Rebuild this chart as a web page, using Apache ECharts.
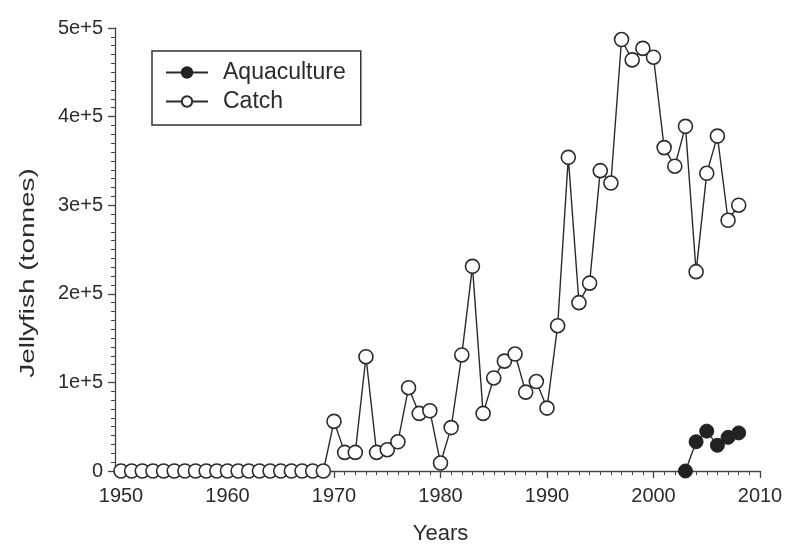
<!DOCTYPE html>
<html>
<head>
<meta charset="UTF-8">
<title>Jellyfish</title>
<script src="https://cdn.jsdelivr.net/npm/echarts@6/dist/echarts.min.js"></script>
<style>
  html, body { margin: 0; padding: 0; background: #fff; }
  #main { width: 787px; height: 550px; }
</style>
</head>
<body>
<div id="main"></div>
<script type="text/javascript">
  // years 1950..2008
  var years = [];
  for (var y = 1950; y <= 2008; y++) years.push(y);

  // catch, tonnes
  var catchVals = [
    0, 0, 0, 0, 0, 0, 0, 0, 0, 0,
    0, 0, 0, 0, 0, 0, 0, 0, 0, 0,
    56000, 21000, 21000, 129000, 21000, 24000, 33000, 94000, 65000, 68000,
    9000, 49000, 131000, 231000, 65000, 105000, 124000, 132000, 89000, 101000,
    71000, 164000, 354000, 190000, 212000, 339000, 325000, 487000, 464000, 477000,
    467000, 365000, 344000, 389000, 225000, 336000, 378000, 283000, 300000
  ];
  var aquaYears = [2003, 2004, 2005, 2006, 2007, 2008];
  var aquaVals = [0, 33000, 45000, 29000, 38000, 43000];

  var yTicks = [0, 100000, 200000, 300000, 400000, 500000];
  var yTickLabels = ['0', '1e+5', '2e+5', '3e+5', '4e+5', '5e+5'];

  var catchData = years.map(function (yr, i) { return [yr, catchVals[i]]; });
  var aquaData = aquaYears.map(function (yr, i) { return [yr, aquaVals[i]]; });

  var ink = '#2b2b2b';
  var font = 'Liberation Sans';

  var myChart = echarts.init(document.getElementById('main'));
  myChart.setOption({
    animation: false,
    backgroundColor: '#fff',
    textStyle: { fontFamily: font },
    grid: { left: 121, right: 27, top: 28, bottom: 79 },
    // y title is drawn by hand: it is stretched along its length in the original
    graphic: [{
      type: 'text',
      x: 28, y: 273,
      rotation: Math.PI / 2,
      scaleX: 1.33,
      style: {
        text: 'Jellyfish (tonnes)',
        fontFamily: font, fontSize: 21, fill: ink,
        align: 'center', verticalAlign: 'middle'
      }
    }],
    legend: {
      left: 152, top: 51,
      orient: 'vertical',
      data: ['Aquaculture', 'Catch'],
      borderColor: '#333', borderWidth: 1.5,
      padding: [10, 15, 12, 13],
      itemGap: 6,
      itemWidth: 42, itemHeight: 13,
      textStyle: { fontFamily: font, fontSize: 23, color: ink, padding: [0, 0, 0, 10] }
    },
    xAxis: {
      type: 'value',
      min: 1950, max: 2010, interval: 10,
      name: 'Years', nameLocation: 'middle', nameGap: 50,
      nameTextStyle: { fontFamily: font, fontSize: 22, color: ink },
      offset: 2,
      splitLine: { show: false },
      axisLine: { show: true, lineStyle: { color: '#444', width: 1.3 } },
      axisTick: { show: true, length: 7, lineStyle: { color: '#444', width: 1.3 } },
      minorTick: { show: true, splitNumber: 10, length: 4, lineStyle: { color: '#444', width: 1 } },
      axisLabel: {
        fontFamily: font, fontSize: 20, color: ink, margin: 13,
        formatter: function (v) { return String(v); }
      }
    },
    yAxis: {
      type: 'value',
      min: 0, max: 500000, interval: 100000,
      offset: 6,
      splitLine: { show: false },
      axisLine: { show: true, lineStyle: { color: '#444', width: 1.3 } },
      axisTick: { show: true, length: 7, lineStyle: { color: '#444', width: 1.3 } },
      minorTick: { show: true, splitNumber: 10, length: 4, lineStyle: { color: '#444', width: 1 } },
      axisLabel: {
        fontFamily: font, fontSize: 20, color: ink, margin: 12,
        formatter: function (v) { return yTickLabels[yTicks.indexOf(v)]; }
      }
    },
    series: [
      {
        name: 'Aquaculture',
        type: 'line',
        data: aquaData,
        symbol: 'circle', symbolSize: 14,
        lineStyle: { color: ink, width: 1.4 },
        itemStyle: { color: '#222', borderColor: '#222', borderWidth: 1 },
        z: 3
      },
      {
        name: 'Catch',
        type: 'line',
        data: catchData,
        symbol: 'circle', symbolSize: 14,
        showAllSymbol: true,
        lineStyle: { color: ink, width: 1.4 },
        itemStyle: { color: '#fff', borderColor: ink, borderWidth: 1.6 },
        z: 2
      }
    ]
  });
</script>
</body>
</html>
